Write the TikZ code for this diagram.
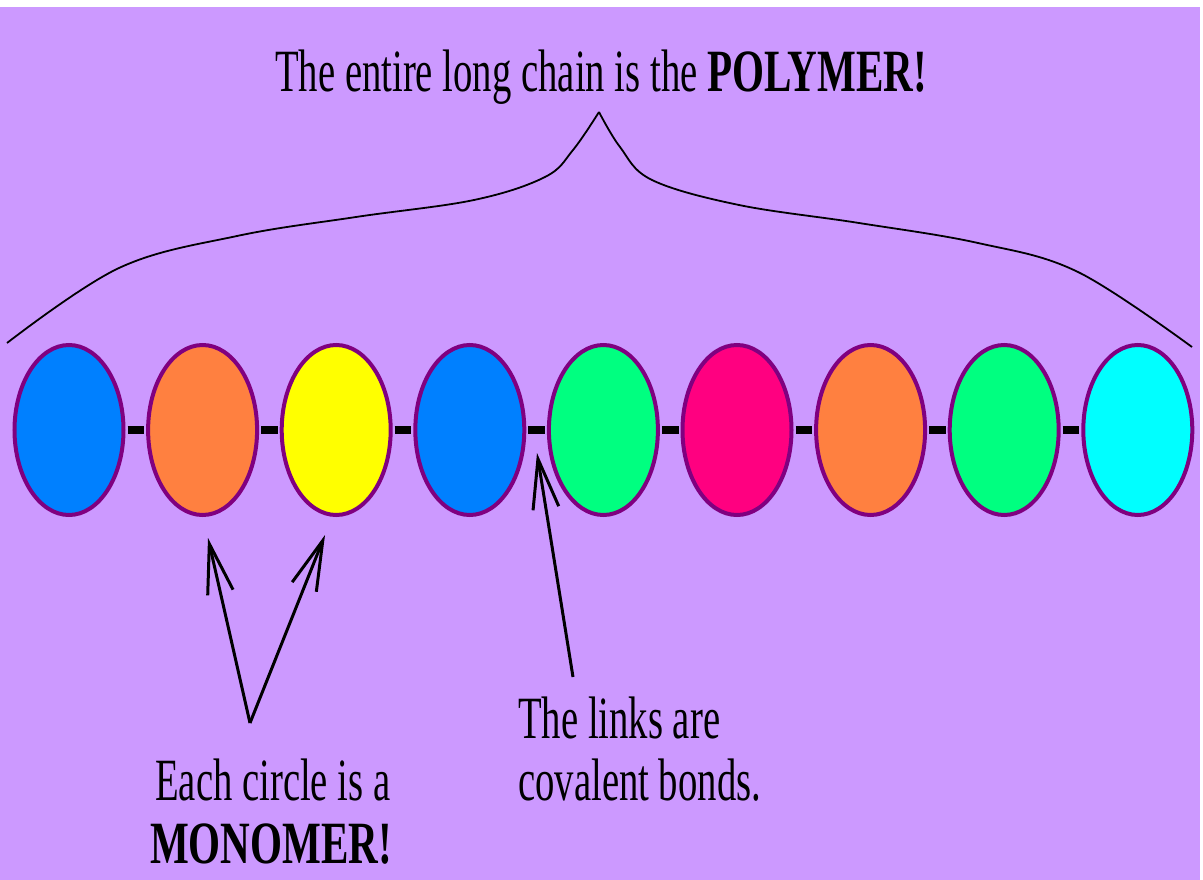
\documentclass[tikz,border=0pt]{standalone}
\usepackage{fontspec}
\setmainfont{Liberation Serif}[FakeStretch=0.645]
\newfontfamily\bcond{Liberation Serif}[FakeStretch=0.685]
\usetikzlibrary{shapes.geometric,arrows.meta}
\definecolor{bgpurple}{HTML}{CC99FF}
\definecolor{ringpurple}{HTML}{800080}
\definecolor{mblue}{HTML}{0080FF}
\definecolor{morange}{HTML}{FF8040}
\definecolor{myellow}{HTML}{FFFF00}
\definecolor{mgreen}{HTML}{00FF80}
\definecolor{mpink}{HTML}{FF0080}
\definecolor{mcyan}{HTML}{00FFFF}
\newcommand{\boldword}[1]{{\bcond\bfseries #1}}
\begin{document}
\begin{tikzpicture}[x=1pt,y=-1pt,
  mono/.style={ellipse, draw=ringpurple, line width=4pt, minimum width=109pt, minimum height=170pt, inner sep=0pt},
  bond/.style={line width=8pt, black, shorten <=2pt, shorten >=2pt},
  pointer/.style={line width=3pt, black, -{Straight Barb[length=50pt,width=26pt]}},
  lbl/.style={inner sep=0pt, font=\fontsize{60}{62}\selectfont},
  bracestyle/.style={line width=1.8pt, black}
]
\useasboundingbox (0,0) rectangle (1203,880);
\fill[white] (0,0) rectangle (1203,880);
\fill[bgpurple] (0,7) rectangle (1200,880);

% monomers
\foreach \i/\c in {1/mblue,2/morange,3/myellow,4/mblue,5/mgreen,6/mpink,7/morange,8/mgreen,9/mcyan}
  \node[mono, fill=\c] (c\i) at ({69+133.6*(\i-1)},430) {};
% covalent bonds
\foreach \i [evaluate=\i as \j using int(\i+1)] in {1,...,8}
  \draw[bond] (c\i.east) -- (c\j.west);

% brace
\coordinate (bl) at (7,343);
\coordinate (bt) at (599,112);
\coordinate (br) at (1192,347);
\draw[bracestyle] plot[smooth, tension=0.6] coordinates {(bl) (119,268) (237,236) (356,217) (474,200) (545,177) (573,150) (bt)};
\draw[bracestyle] plot[smooth, tension=0.6] coordinates {(bt) (620,147) (652,180) (739,205) (859,223) (978,243) (1078,272) (br)};

% texts
\node[lbl, anchor=base west] (title) at (275,92) {The entire long chain is the \boldword{POLYMER!}};
\node[lbl, anchor=base west] (m1) at (155,800) {Each circle is a};
\node[lbl, anchor=base west] (m2) at (150,863) {\boldword{MONOMER!}};
\node[lbl, anchor=base west] (l1) at (518,738) {The links are};
\node[lbl, anchor=base west] (l2) at (518,800) {covalent bonds.};

% pointers
\coordinate (v) at (250,723);
\coordinate (t1) at (208,538);
\coordinate (t2) at (325,535);
\coordinate (w) at (573,677);
\coordinate (t3) at (537,453);
\draw[pointer] (v) -- (t1);
\draw[pointer] (v) -- (t2);
\draw[pointer] (w) -- (t3);
\end{tikzpicture}
\end{document}
